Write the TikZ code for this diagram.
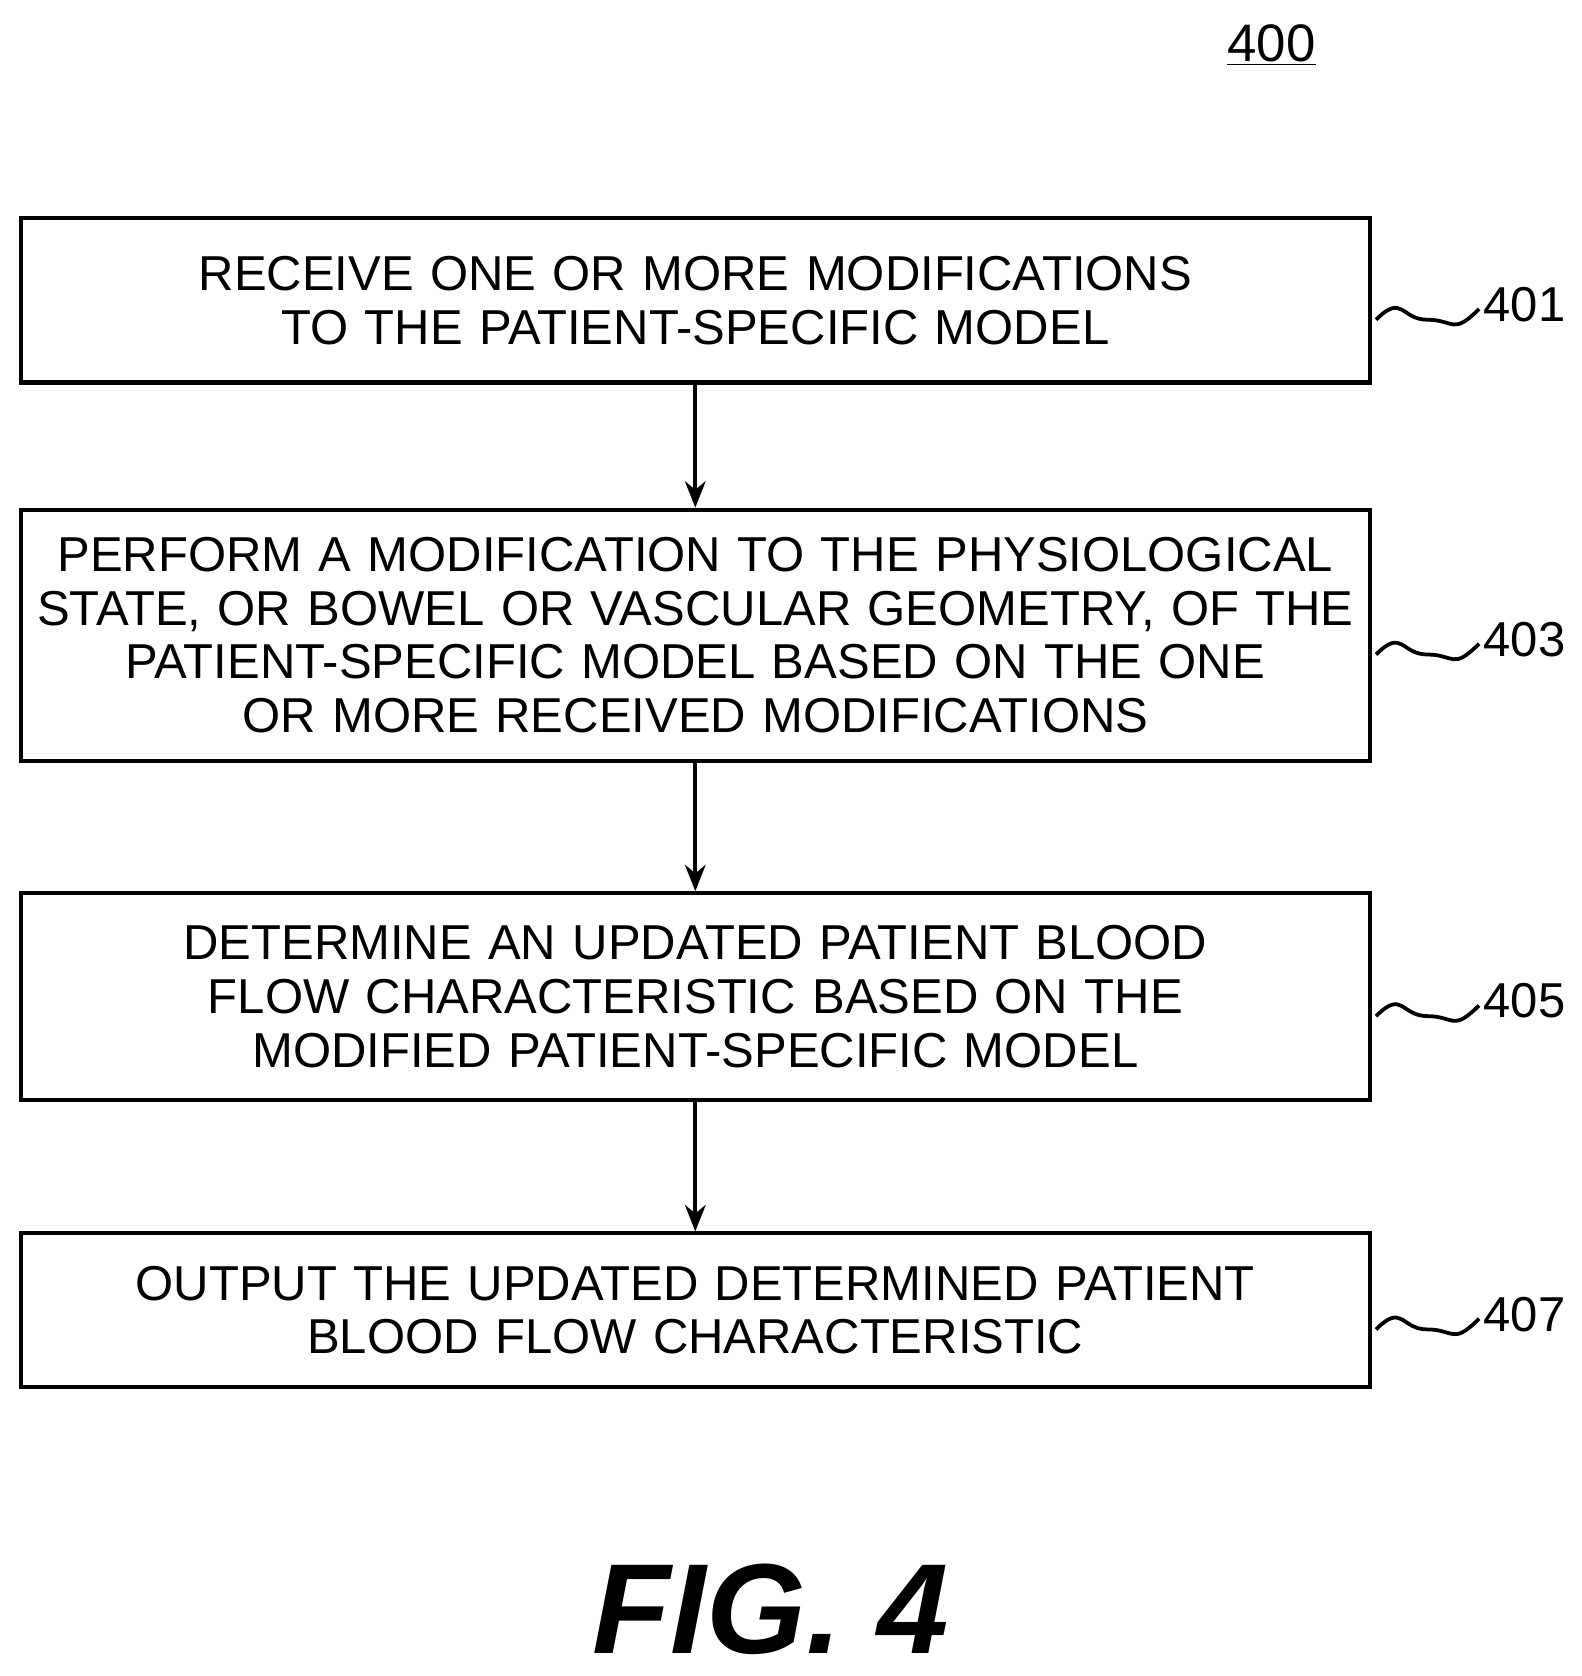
\documentclass[tikz,border=0pt]{standalone}
\usepackage{fontspec}
\setmainfont{Liberation Sans}
\usetikzlibrary{arrows.meta, positioning, calc}

\begin{document}
\begin{tikzpicture}[
    x=0.02cm, y=-0.02cm,
    stepbox/.style={rectangle, draw, line width=2.2pt, text width=1257*0.02cm,
                align=center, font=\fontsize{26}{28.5}\selectfont, inner sep=0pt},
    arrow/.style={-{Stealth[length=14pt, width=11pt]}, line width=2pt},
    tag/.style={font=\fontsize{26}{30}\selectfont, anchor=west}
]
    \useasboundingbox (0,0) rectangle (1474,1562);

    \node[stepbox, minimum height=153*0.02cm] (receive) at (648,280) {RECEIVE ONE OR MORE MODIFICATIONS\\TO THE PATIENT-SPECIFIC MODEL};
    \node[stepbox, minimum height=234*0.02cm] (perform) at (648,592) {PERFORM A MODIFICATION TO THE PHYSIOLOGICAL\\STATE, OR BOWEL OR VASCULAR GEOMETRY, OF THE\\PATIENT-SPECIFIC MODEL BASED ON THE ONE\\OR MORE RECEIVED MODIFICATIONS};
    \node[stepbox, minimum height=193*0.02cm] (determine) at (648,929) {DETERMINE AN UPDATED PATIENT BLOOD\\FLOW CHARACTERISTIC BASED ON THE\\MODIFIED PATIENT-SPECIFIC MODEL};
    \node[stepbox, minimum height=143*0.02cm] (output) at (648,1221) {OUTPUT THE UPDATED DETERMINED PATIENT\\BLOOD FLOW CHARACTERISTIC};

    \draw[arrow] (receive) -- (perform);
    \draw[arrow] (perform) -- (determine);
    \draw[arrow] (determine) -- (output);

    % reference numerals with squiggles
    \foreach \blk/\num in {receive/401, perform/403, determine/405, output/407} {
        \coordinate (s\num) at ($(\blk.east)+(4,18)$);
        \draw[line width=2pt] (s\num) .. controls +(25,-25) and +(-25,0) .. ++(48,0)
            .. controls +(25,0) and +(-25,25) .. ++(48,-10) coordinate (e\num);
        \node[tag] (n\num) at ($(e\num)+(-2,-4)$) {\num};
    }

    \node[font=\fontsize{28}{32}\selectfont] (fignum) at (1185,42) {\underline{400}};
    \node[font=\fontsize{68}{70}\selectfont\bfseries\itshape] (caption) at (718,1500) {FIG. 4};
\end{tikzpicture}
\end{document}
